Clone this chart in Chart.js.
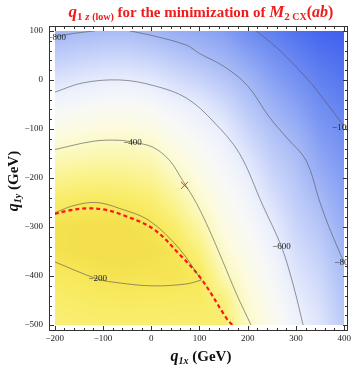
<!DOCTYPE html>
<html>
<head>
<meta charset="utf-8">
<script src="https://cdn.jsdelivr.net/npm/chart.js@4.4.0/dist/chart.umd.min.js"></script>
<style>
  html, body { margin: 0; padding: 0; background: #fff; }
  #wrap { width: 354px; height: 369px; }
</style>
</head>
<body>
<div id="wrap"><canvas id="chart" width="354" height="369"></canvas></div>
<script>
const xGrid = [-200, -150, -100, -50, 0, 50, 100, 150, 200, 250, 300, 350, 400];
const yGrid = [100, 50, 0, -50, -100, -150, -200, -250, -300, -350, -400, -450, -500];
// field value at each node, one row per yGrid entry
const fieldRows = [
  [-822, -807, -798, -798, -818, -853, -880, -916, -991, -1040, -1088, -1130, -1150],
  [-733, -715, -701, -700, -719, -758, -793, -835, -905, -971, -1028, -1080, -1110],
  [-644, -622, -604, -598, -620, -663, -705, -755, -819, -903, -967, -1033, -1070],
  [-557, -537, -521, -518, -536, -578, -610, -674, -756, -834, -907, -986, -1033],
  [-472, -455, -439, -438, -456, -512, -559, -603, -699, -777, -846, -940, -996],
  [-388, -373, -361, -363, -380, -446, -507, -561, -642, -732, -792, -893, -960],
  [-310, -293, -287, -292, -313, -380, -456, -527, -591, -687, -760, -847, -924],
  [-233, -213, -212, -221, -247, -313, -405, -491, -557, -642, -727, -800, -888],
  [-175, -170, -165, -170, -190, -247, -340, -455, -524, -598, -695, -760, -852],
  [-180, -168, -160, -160, -170, -190, -275, -415, -490, -569, -662, -725, -818],
  [-215, -205, -190, -185, -190, -190, -210, -360, -457, -540, -630, -690, -790],
  [-240, -230, -222, -220, -222, -225, -225, -270, -423, -510, -597, -660, -765],
  [-265, -255, -248, -245, -248, -250, -245, -240, -395, -480, -570, -635, -740]
];

// contour lines (x, y)
const contour1000 = [[218, 100], [260, 66], [301, 26], [330, -5], [354, -35], [380, -68], [400, -95]];
const contour800Left = [[-200, 88], [-160, 95], [-117, 100]];
const contour800 = [[-45, 100], [0, 91], [73, 71], [100, 54], [150, 28], [199, -11], [245, -76], [283, -120], [321, -164], [350, -250], [369, -301], [400, -373]];
const contour600 = [[-200, -25], [-142, -6], [-66, 0], [3, -11], [73, -37], [130, -86], [183, -150], [230, -253], [270, -340], [295, -420], [315, -500]];
const contour400 = [[-200, -142], [-120, -125], [-66, -123], [-39, -127], [3, -137], [38, -164], [65, -205], [94, -252], [121, -307], [148, -369], [177, -437], [207, -500]];
const contour200Upper = [[-200, -271], [-160, -256], [-113, -250], [-66, -262], [-4, -287], [58, -344], [104, -408]];
const contour200Lower = [[-200, -371], [-111, -406], [-66, -414], [3, -420], [73, -416], [104, -408]];
const boundaryDashed = [[-200, -273], [-170, -266], [-134, -262], [-100, -264], [-66, -273], [3, -303], [58, -355], [104, -406], [156, -486], [168, -500]];
const crossPoint = [[69, -215]];

const contourLabels = [
  ['\u2212800', -196, 86], ['\u22121000', 399, -98], ['\u2212800', 399, -373],
  ['\u2212600', 270, -340], ['\u2212400', -39, -127], ['\u2212200', -111, -406]
];
const xTicks = [-200, -100, 0, 100, 200, 300, 400];
const yTicks = [-500, -400, -300, -200, -100, 0, 100];

const SERIF = '"Liberation Serif", "DejaVu Serif", serif';

// value -> colour (blue for low, white in the middle, yellow for high)
const stops = [
  [-1150, 62, 96, 238], [-1000, 108, 138, 241], [-800, 168, 187, 246],
  [-660, 214, 222, 251], [-590, 236, 240, 252], [-520, 248, 249, 246],
  [-450, 252, 251, 224], [-370, 251, 248, 184], [-290, 250, 242, 134],
  [-220, 248, 234, 96], [-170, 244, 224, 76]
];
function colourOf(v) {
  if (v <= stops[0][0]) return stops[0].slice(1);
  for (let k = 1; k < stops.length; k++) {
    if (v <= stops[k][0]) {
      const a = stops[k - 1], b = stops[k];
      const t = (v - a[0]) / (b[0] - a[0]);
      return [a[1] + t * (b[1] - a[1]), a[2] + t * (b[2] - a[2]), a[3] + t * (b[3] - a[3])];
    }
  }
  return stops[stops.length - 1].slice(1);
}

function sampleField(vx, vy) {
  const nx = xGrid.length, ny = yGrid.length;
  let fx = (vx - xGrid[0]) / (xGrid[1] - xGrid[0]);
  let fy = (yGrid[0] - vy) / (yGrid[0] - yGrid[1]);
  fx = Math.max(0, Math.min(nx - 1, fx));
  fy = Math.max(0, Math.min(ny - 1, fy));
  const i = Math.min(nx - 2, Math.floor(fx)), j = Math.min(ny - 2, Math.floor(fy));
  const tx = fx - i, ty = fy - j;
  const top = fieldRows[j][i] * (1 - tx) + fieldRows[j][i + 1] * tx;
  const bot = fieldRows[j + 1][i] * (1 - tx) + fieldRows[j + 1][i + 1] * tx;
  return top * (1 - ty) + bot * ty;
}

const toPts = arr => arr.map(p => ({ x: p[0], y: p[1] }));
const fmt = v => (v < 0 ? '\u2212' + Math.abs(v) : String(v));

function drawRuns(ctx, runs, cx, baseline) {
  let total = 0;
  runs.forEach(r => { ctx.font = r.font; r.w = ctx.measureText(r.text).width; total += r.w; });
  let x = cx - total / 2;
  runs.forEach(r => { ctx.font = r.font; ctx.fillText(r.text, x, baseline + (r.dy || 0)); x += r.w; });
}

const fieldPlugin = {
  id: 'field',
  beforeDatasetsDraw(chart) {
    const { ctx, scales: { x, y } } = chart;
    const left = Math.round(x.getPixelForValue(xGrid[0]));
    const right = Math.round(x.getPixelForValue(xGrid[xGrid.length - 1]));
    const top = Math.round(y.getPixelForValue(yGrid[0]));
    const bottom = Math.round(y.getPixelForValue(yGrid[yGrid.length - 1]));
    const w = right - left, h = bottom - top;
    const off = document.createElement('canvas');
    off.width = w; off.height = h;
    const octx = off.getContext('2d');
    const img = octx.createImageData(w, h);
    for (let j = 0; j < h; j++) {
      const vy = y.getValueForPixel(top + j + 0.5);
      for (let i = 0; i < w; i++) {
        const vx = x.getValueForPixel(left + i + 0.5);
        const c = colourOf(sampleField(vx, vy));
        const k = (j * w + i) * 4;
        img.data[k] = c[0]; img.data[k + 1] = c[1]; img.data[k + 2] = c[2]; img.data[k + 3] = 255;
      }
    }
    octx.putImageData(img, 0, 0);
    ctx.drawImage(off, left, top);
    ctx.save();
    ctx.beginPath();
    ctx.rect(left, top, w, h);
    ctx.clip();
  },
  afterDatasetsDraw(chart) {
    const { ctx, chartArea: ca, scales: { x, y } } = chart;
    ctx.restore();

    // contour labels
    ctx.save();
    ctx.beginPath();
    ctx.rect(ca.left, ca.top, ca.right - ca.left, ca.bottom - ca.top);
    ctx.clip();
    ctx.font = '9px ' + SERIF;
    ctx.fillStyle = '#222';
    ctx.textAlign = 'center';
    ctx.textBaseline = 'middle';
    contourLabels.forEach(l => ctx.fillText(l[0], x.getPixelForValue(l[1]), y.getPixelForValue(l[2])));
    ctx.restore();

    // frame with inward ticks
    ctx.save();
    ctx.strokeStyle = '#333';
    ctx.lineWidth = 1;
    ctx.strokeRect(ca.left + 0.5, ca.top + 0.5, ca.right - ca.left - 1, ca.bottom - ca.top - 1);
    ctx.beginPath();
    for (let v = -200; v <= 400; v += 20) {
      const px = Math.round(x.getPixelForValue(v)) + 0.5;
      const len = v % 100 === 0 ? 5 : 3;
      ctx.moveTo(px, ca.bottom); ctx.lineTo(px, ca.bottom - len);
      ctx.moveTo(px, ca.top); ctx.lineTo(px, ca.top + len);
    }
    for (let v = -500; v <= 100; v += 20) {
      const py = Math.round(y.getPixelForValue(v)) + 0.5;
      const len = v % 100 === 0 ? 5 : 3;
      ctx.moveTo(ca.left, py); ctx.lineTo(ca.left + len, py);
      ctx.moveTo(ca.right, py); ctx.lineTo(ca.right - len, py);
    }
    ctx.stroke();
    ctx.restore();

    // titles
    ctx.save();
    ctx.textAlign = 'left';
    ctx.textBaseline = 'alphabetic';
    ctx.fillStyle = '#ee1c1c';
    drawRuns(ctx, [
      { text: 'q', font: 'italic bold 17px ' + SERIF },
      { text: '1', font: 'bold 11px ' + SERIF, dy: 3 },
      { text: ' z', font: 'italic bold 11px ' + SERIF, dy: 3 },
      { text: ' (low)', font: 'bold 10px ' + SERIF, dy: 3 },
      { text: ' for the minimization of ', font: 'bold 15px ' + SERIF },
      { text: 'M', font: 'italic bold 17px ' + SERIF },
      { text: '2', font: 'bold 11px ' + SERIF, dy: 3 },
      { text: ' CX', font: 'bold 10px ' + SERIF, dy: 3 },
      { text: '(', font: 'bold 16px ' + SERIF },
      { text: 'ab', font: 'italic bold 16px ' + SERIF },
      { text: ')', font: 'bold 16px ' + SERIF }
    ], 201, 17);

    ctx.fillStyle = '#111';
    drawRuns(ctx, [
      { text: 'q', font: 'italic bold 16px ' + SERIF },
      { text: '1x', font: 'italic bold 10px ' + SERIF, dy: 3 },
      { text: ' (GeV)', font: 'bold 15px ' + SERIF }
    ], 201, 361);

    ctx.translate(18, 181);
    ctx.rotate(-Math.PI / 2);
    drawRuns(ctx, [
      { text: 'q', font: 'italic bold 16px ' + SERIF },
      { text: '1y', font: 'italic bold 10px ' + SERIF, dy: 3 },
      { text: ' (GeV)', font: 'bold 15px ' + SERIF }
    ], 0, 0);
    ctx.restore();
  }
};

const contourStyle = {
  showLine: true, pointRadius: 0, borderWidth: 1, tension: 0.35,
  borderColor: 'rgba(85, 85, 85, 0.62)', fill: false
};

new Chart(document.getElementById('chart').getContext('2d'), {
  type: 'scatter',
  data: {
    datasets: [
      { ...contourStyle, data: toPts(contour1000) },
      { ...contourStyle, data: toPts(contour800Left) },
      { ...contourStyle, data: toPts(contour800) },
      { ...contourStyle, data: toPts(contour600) },
      { ...contourStyle, data: toPts(contour400) },
      { ...contourStyle, data: toPts(contour200Upper) },
      { ...contourStyle, data: toPts(contour200Lower) },
      {
        data: toPts(boundaryDashed), showLine: true, pointRadius: 0, tension: 0.35,
        borderColor: '#ff1414', borderWidth: 2.2, borderDash: [4, 3]
      },
      {
        data: toPts(crossPoint), pointStyle: 'crossRot', pointRadius: 5,
        borderColor: '#f03030', borderWidth: 1
      }
    ]
  },
  options: {
    responsive: false,
    animation: false,
    layout: { padding: { top: 26, right: 5, left: 0, bottom: 0 } },
    plugins: { legend: { display: false }, tooltip: { enabled: false } },
    scales: {
      x: {
        type: 'linear', min: -212, max: 408,
        grid: { display: false, drawTicks: false },
        border: { display: false },
        ticks: { font: { family: SERIF, size: 9 }, color: '#222', padding: 2, maxRotation: 0, callback: fmt },
        afterBuildTicks: s => { s.ticks = xTicks.map(v => ({ value: v })); },
        afterFit: s => { s.height = 38; }
      },
      y: {
        type: 'linear', min: -512, max: 110,
        grid: { display: false, drawTicks: false },
        border: { display: false },
        ticks: { font: { family: SERIF, size: 9 }, color: '#222', padding: 6, callback: fmt },
        afterBuildTicks: s => { s.ticks = yTicks.map(v => ({ value: v })); },
        afterFit: s => { s.width = 49; }
      }
    }
  },
  plugins: [fieldPlugin]
});
</script>
</body>
</html>
